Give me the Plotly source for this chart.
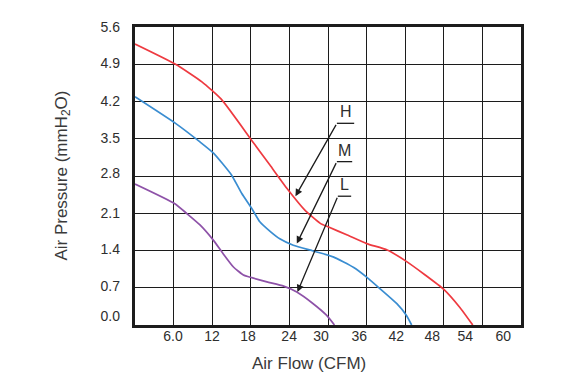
import plotly.graph_objects as go

# ---- data ----
h_flow = [0, 6.3, 10.4, 13.5, 18.2, 21.0, 23.6, 26.4, 28.8, 30.1, 33.0, 36.0, 39.2, 42.0, 45.0, 48.0, 50.5, 52.5]
h_pres = [5.28, 4.90, 4.57, 4.23, 3.46, 3.00, 2.57, 2.16, 1.91, 1.84, 1.69, 1.53, 1.41, 1.21, 0.95, 0.67, 0.33, 0.0]

m_flow = [0, 6.3, 10.1, 12.2, 15.0, 16.6, 18.15, 19.4, 21.0, 22.5, 24.6, 27.7, 30.8, 34.0, 36.0, 38.1, 40.7, 42.2, 43.0]
m_pres = [4.29, 3.79, 3.44, 3.23, 2.82, 2.47, 2.19, 1.94, 1.76, 1.62, 1.50, 1.39, 1.28, 1.08, 0.90, 0.68, 0.40, 0.18, 0.0]

l_flow = [0, 6.2, 8.0, 10.1, 12.2, 13.7, 15.3, 16.85, 18.15, 20.5, 23.1, 25.15, 27.7, 29.8, 31.0]
l_pres = [2.65, 2.28, 2.10, 1.88, 1.59, 1.34, 1.09, 0.94, 0.89, 0.81, 0.73, 0.62, 0.40, 0.18, 0.0]

x_tick_text = ["6.0", "12", "18", "24", "30", "36", "42", "48", "54", "60"]
x_tick_pos = [5.91, 11.98, 17.58, 23.96, 28.93, 34.85, 40.60, 46.2, 51.33, 57.24]
y_tick_text = ["5.6", "4.9", "4.2", "3.5", "2.8", "2.1", "1.4", "0.7", "0.0"]
y_tick_pos = [5.595, 4.93, 4.21, 3.51, 2.85, 2.11, 1.42, 0.73, 0.16]

# callout labels: name, arrow tip (x, y), underline left x, underline right x, underline y
callouts = [
    ("H", 24.94, 2.42, 31.38, 34.07, 3.79),
    ("M", 25.15, 1.53, 31.38, 33.76, 3.07),
    ("L", 25.25, 0.62, 31.53, 33.60, 2.42),
]

RED, BLUE, PURPLE = "#EE3A40", "#3A8DD1", "#8E52A8"
INK = "#1c1c1c"
TXT = "#2e2e2e"
FONT = "Liberation Sans, Arial, sans-serif"

fig = go.Figure()
for xs, ys, col in [(h_flow, h_pres, RED), (m_flow, m_pres, BLUE), (l_flow, l_pres, PURPLE)]:
    fig.add_trace(go.Scatter(x=xs, y=ys, mode="lines",
                             line=dict(color=col, width=1.7, shape="spline", smoothing=0.5),
                             showlegend=False, hoverinfo="skip"))

# the page body adds an 8px offset, so the figure is 572x372 inside the 580x380 window
fig.update_layout(
    width=572, height=372,
    margin=dict(l=127, r=59, t=19, b=55),
    paper_bgcolor="white", plot_bgcolor="white",
    font=dict(family=FONT, color=TXT),
    xaxis=dict(range=[0, 60], dtick=6, tick0=0, showticklabels=False, ticks="",
               showgrid=True, gridcolor=INK, gridwidth=1.4, zeroline=False,
               showline=True, mirror=True, linecolor=INK, linewidth=2.6),
    yaxis=dict(range=[0, 5.6], dtick=0.7, tick0=0, showticklabels=False, ticks="",
               showgrid=True, gridcolor=INK, gridwidth=1.4, zeroline=False,
               showline=True, mirror=True, linecolor=INK, linewidth=2.6),
    xaxis2=dict(overlaying="x", anchor="y", side="bottom", range=[0, 60],
                tickmode="array", tickvals=x_tick_pos, ticktext=x_tick_text,
                showgrid=False, zeroline=False, showline=False, ticks="",
                ticklabelstandoff=1, tickfont=dict(size=14, color=TXT, family=FONT)),
    yaxis2=dict(overlaying="y", anchor="x", side="left", range=[0, 5.6],
                tickmode="array", tickvals=y_tick_pos, ticktext=y_tick_text,
                showgrid=False, zeroline=False, showline=False, ticks="",
                ticklabelstandoff=14, tickfont=dict(size=14, color=TXT, family=FONT)),
)

# invisible trace so the label axes are active
fig.add_trace(go.Scatter(x=[0], y=[0], xaxis="x2", yaxis="y2", mode="markers",
                         marker=dict(opacity=0), showlegend=False, hoverinfo="skip"))

for name, tx, ty, ux0, ux1, uy in callouts:
    fig.add_shape(type="line", x0=ux0, x1=ux1, y0=uy, y1=uy, xref="x", yref="y",
                  line=dict(color=INK, width=1.3))
    fig.add_annotation(x=tx, y=ty, ax=ux0, ay=uy, xref="x", yref="y", axref="x", ayref="y",
                       text="", showarrow=True, arrowhead=2, arrowsize=1.1, arrowwidth=1.3,
                       arrowcolor=INK)
    fig.add_annotation(x=(ux0 + ux1) / 2, y=uy, xref="x", yref="y", yanchor="bottom",
                       yshift=1, text=name, showarrow=False,
                       font=dict(size=16, color=TXT, family=FONT))

fig.add_annotation(x=0.452, y=-0.128, xref="paper", yref="paper", text="Air Flow (CFM)",
                   showarrow=False, xanchor="center", yanchor="middle",
                   font=dict(size=17, color="#3a3a3a", family=FONT))
fig.add_annotation(x=-0.186, y=0.502, xref="paper", yref="paper",
                   text="Air Pressure (mmH<sub>2</sub>O)", textangle=-90,
                   showarrow=False, xanchor="center", yanchor="middle",
                   font=dict(size=17, color="#3a3a3a", family=FONT))

fig.write_html("out.html")
